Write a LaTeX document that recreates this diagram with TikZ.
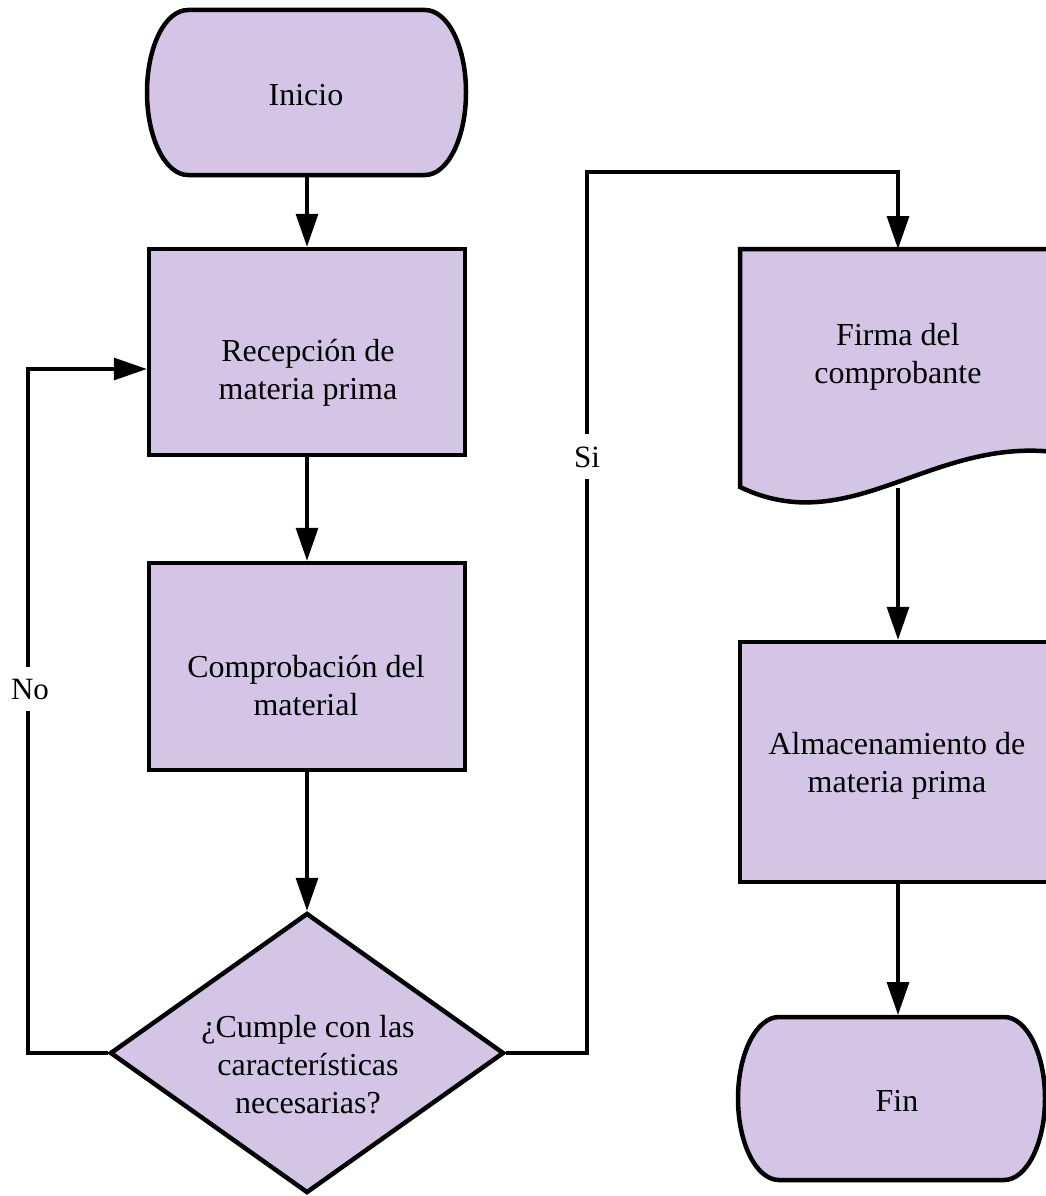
\documentclass[tikz,border=0pt]{standalone}
\usepackage{fontspec}
\setmainfont{Liberation Serif}
\usetikzlibrary{arrows.meta,shapes.geometric,calc}
\definecolor{procfill}{RGB}{212,197,230}

\begin{document}
\begin{tikzpicture}[x=1pt,y=-1pt,
  shapeline/.style={draw=black,line width=4.5pt,fill=procfill},
  procbox/.style={shapeline,rectangle,inner sep=0pt},
  anchorbox/.style={rectangle,inner sep=0pt,outer sep=2pt},
  txt/.style={font=\fontsize{32}{38}\selectfont,align=center,inner sep=0pt},
  edgelabel/.style={font=\fontsize{31}{38}\selectfont,fill=white,inner xsep=3pt,inner ysep=12pt},
  flow/.style={draw=black,line width=3.2pt,-{Triangle[width=22pt,length=33pt]}},
]
\clip (0,0) rectangle (1046,1196);

% --- left column -------------------------------------------------------
% start terminal (flat top and bottom, elliptical ends)
\path[shapeline] (188,10) -- (425,10)
  .. controls (447.6,10) and (466,45.9) .. (466,92.5)
  .. controls (466,138.1) and (447.6,175) .. (425,175)
  -- (188,175)
  .. controls (165.4,175) and (147,138.1) .. (147,92.5)
  .. controls (147,45.9) and (165.4,10) .. (188,10) -- cycle;
\node[anchorbox,minimum width=319pt,minimum height=165pt] (inicio) at (306.5,92.5) {};
\node[txt,anchor=base] (inicio-txt) at (306,106) {Inicio};

\node[procbox,minimum width=316pt,minimum height=206pt] (recep) at (307,352) {};
\node[txt] (recep-txt) at (308,373) {Recepción de\\materia prima};

\node[procbox,minimum width=316pt,minimum height=207pt] (compr) at (307,666.5) {};
\node[txt] (compr-txt) at (306,686) {Comprobación del\\material};

\node[shapeline,diamond,minimum width=394pt,minimum height=280pt,inner sep=0pt] (dec) at (307,1053) {};
\node[txt] (dec-txt) at (308,1065) {¿Cumple con las\\características\\necesarias?};

% --- right column ------------------------------------------------------
% document shape with a wavy lower edge
\path[shapeline] (740,249) -- (1054,249) -- (1054,452)
  .. controls (930,438) and (850,540) .. (740,487) -- cycle;
\node[anchorbox,minimum width=316pt,minimum height=235pt] (firma) at (898,368.5) {};
\node[txt] (firma-txt) at (898,357) {Firma del\\comprobante};

\node[procbox,minimum width=316pt,minimum height=240pt] (almac) at (898,762) {};
\node[txt] (almac-txt) at (897,766) {Almacenamiento de\\materia prima};

% end terminal
\path[shapeline] (779,1017) -- (1004,1017)
  .. controls (1026.6,1017) and (1045,1053.5) .. (1045,1098.5)
  .. controls (1045,1143.5) and (1026.6,1180) .. (1004,1180)
  -- (779,1180)
  .. controls (756.4,1180) and (738,1143.5) .. (738,1098.5)
  .. controls (738,1053.5) and (756.4,1017) .. (779,1017) -- cycle;
\node[anchorbox,minimum width=307pt,minimum height=163pt] (fin) at (891.5,1098.5) {};
\node[txt,anchor=base] (fin-txt) at (897,1111) {Fin};

% --- connectors ----------------------------------------------------------
\draw[flow] (inicio.south -| recep.north) -- (recep.north);
\draw[flow] (recep.south) -- (compr.north);
\draw[flow] (compr.south) -- (dec.north);

\coordinate (noturn) at (28,369);
\draw[flow] (dec.west) -| (noturn) -- (noturn -| recep.west);
\node[edgelabel,anchor=base] (no-lbl) at (30,699) {No};

\coordinate (siturn) at (587,172);
\draw[flow] (dec.east) -| (siturn) -| (firma.north);
\node[edgelabel,anchor=base] (si-lbl) at (587,467) {Si};

\draw[flow] (firma.south) -- (almac.north);
\draw[flow] (almac.south) -- (almac.south |- fin.north);
\end{tikzpicture}
\end{document}
